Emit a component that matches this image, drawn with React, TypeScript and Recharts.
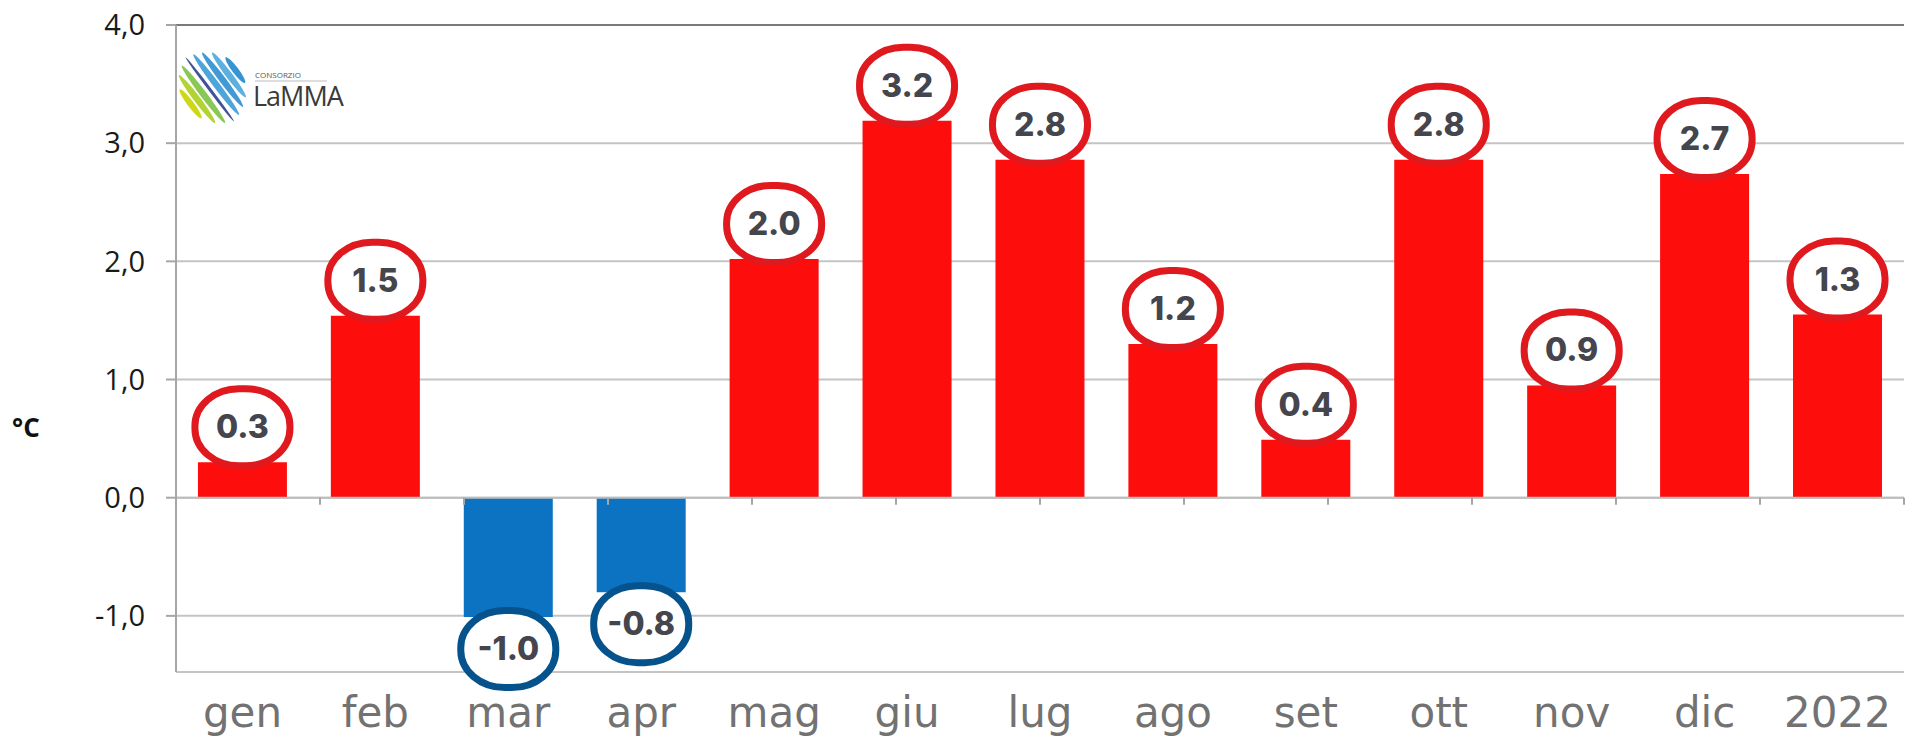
import React from 'react';
import { BarChart, Bar, XAxis, YAxis, CartesianGrid, ReferenceLine, LabelList, Cell } from 'recharts';

const categories = ['gen', 'feb', 'mar', 'apr', 'mag', 'giu', 'lug', 'ago', 'set', 'ott', 'nov', 'dic', '2022'];
const anomalies = [0.3, 1.54, -1.01, -0.8, 2.02, 3.19, 2.86, 1.3, 0.49, 2.86, 0.95, 2.74, 1.55];
const labels = ['0.3', '1.5', '-1.0', '-0.8', '2.0', '3.2', '2.8', '1.2', '0.4', '2.8', '0.9', '2.7', '1.3'];
const yTicks = [-1, 0, 1, 2, 3, 4];
const boundaries = [1, 2, 3, 4, 5, 6, 7, 8, 9, 10, 11, 12];

const data = categories.map((c, i) => ({ cat: c, value: anomalies[i], label: labels[i] }));

const RED = '#FE0D0D';
const BLUE = '#0C73C2';
const RED_RING = '#E0191F';
const BLUE_RING = '#05528C';

const Bubble = (props: any) => {
  const { x, y, width, height, index } = props;
  const v = anomalies[index];
  const top = Math.min(y, y + height);
  const bottom = Math.max(y, y + height);
  const cx = x + width / 2;
  const cy = v >= 0 ? top - 35 : bottom + 32;
  const w = 95;
  const h = 77;
  return (
    <g>
      <rect
        x={cx - w / 2}
        y={cy - h / 2}
        width={w}
        height={h}
        rx={44}
        ry={37}
        fill="#ffffff"
        stroke={v >= 0 ? RED_RING : BLUE_RING}
        strokeWidth={7}
      />
      <text
        x={cx}
        y={cy + 11}
        textAnchor="middle"
        fontFamily="Inter, 'Noto Sans', sans-serif"
        fontWeight={800}
        fontSize={32}
        fill="#45454D"
      >
        {labels[index]}
      </text>
    </g>
  );
};

const Logo = () => {
  const colors = ['#1f88cc', '#4aa6dc', '#2d8fd0', '#3b9bd6', '#2e3f8f', '#7cc242', '#a8cf1e', '#c9d400'];
  const cx = 213;
  const cy = 87;
  const offsets = [-28, -20, -12, -4, 4, 12, 20, 28];
  const lens = [16, 28, 34, 38, 40, 36, 30, 18];
  return (
    <svg width={1907} height={737} style={{ position: 'absolute', left: 0, top: 0, pointerEvents: 'none' }}>
      <g transform={`translate(${cx},${cy}) rotate(53)`}>
        {offsets.map((o, i) => (
          <ellipse key={i} cx={0} cy={o} rx={lens[i]} ry={i === 4 ? 1.6 : 3.2} fill={colors[i]} opacity={0.9} />
        ))}
      </g>
      <text x={255} y={78} fontFamily="'Open Sans', sans-serif" fontSize={8} fill="#555">CONSORZIO</text>
      <line x1={255} y1={81} x2={327} y2={81} stroke="#bbb" strokeWidth={1} />
      <text x={253} y={106} fontFamily="'Open Sans', sans-serif" fontSize={27} fill="#3a3a3a" letterSpacing={-1}>LaMMA</text>
      <text x={12} y={437} fontFamily="'Open Sans', sans-serif" fontWeight={700} fontSize={26} fill="#111">°C</text>
    </svg>
  );
};

export default function App() {
  return (
    <div style={{ position: 'absolute', left: 0, top: 0, width: 1907, height: 737, background: '#fff' }}>
      <BarChart
        width={1907}
        height={737}
        data={data}
        margin={{ top: 25, right: 3, bottom: 0, left: 0 }}
        barCategoryGap="16.5%"
      >
        <CartesianGrid vertical={false} stroke="#c4c4c4" strokeWidth={2} />
        <XAxis
          xAxisId="cat"
          dataKey="cat"
          axisLine={false}
          tickLine={false}
          tickSize={0}
          tickMargin={25}
          height={65}
          interval={0}
          tick={{ fontFamily: "'DejaVu Sans', sans-serif", fontSize: 42, fill: '#727272' }}
        />
        <XAxis xAxisId="num" type="number" domain={[0, 13]} hide />
        <YAxis
          domain={[-1.475, 4]}
          ticks={yTicks}
          width={176}
          allowDataOverflow
          axisLine={{ stroke: '#a6a6a6', strokeWidth: 2 }}
          tickLine={{ stroke: '#a6a6a6', strokeWidth: 2 }}
          tickSize={10}
          tickMargin={21}
          tickFormatter={(v: number) => v.toFixed(1).replace('.', ',')}
          tick={{ fontFamily: "'Open Sans', sans-serif", fontSize: 29, fill: '#1a1a1a' }}
        />
        <ReferenceLine xAxisId="num" y={4} stroke="#7a7a7a" strokeWidth={2} />
        <ReferenceLine xAxisId="num" x={13} stroke="#6a6a6a" strokeWidth={2} />
        <ReferenceLine xAxisId="num" y={0} stroke="#bdbdbd" strokeWidth={2} />
        {boundaries.map((b) => (
          <ReferenceLine
            key={b}
            xAxisId="num"
            segment={[{ x: b, y: 0 }, { x: b, y: -0.06 }]}
            stroke="#a6a6a6"
            strokeWidth={2}
          />
        ))}
        <Bar xAxisId="cat" dataKey="value" isAnimationActive={false}>
          {data.map((d, i) => (
            <Cell key={i} fill={d.value >= 0 ? RED : BLUE} />
          ))}
          <LabelList dataKey="label" content={Bubble} />
        </Bar>
      </BarChart>
      <Logo />
    </div>
  );
}
